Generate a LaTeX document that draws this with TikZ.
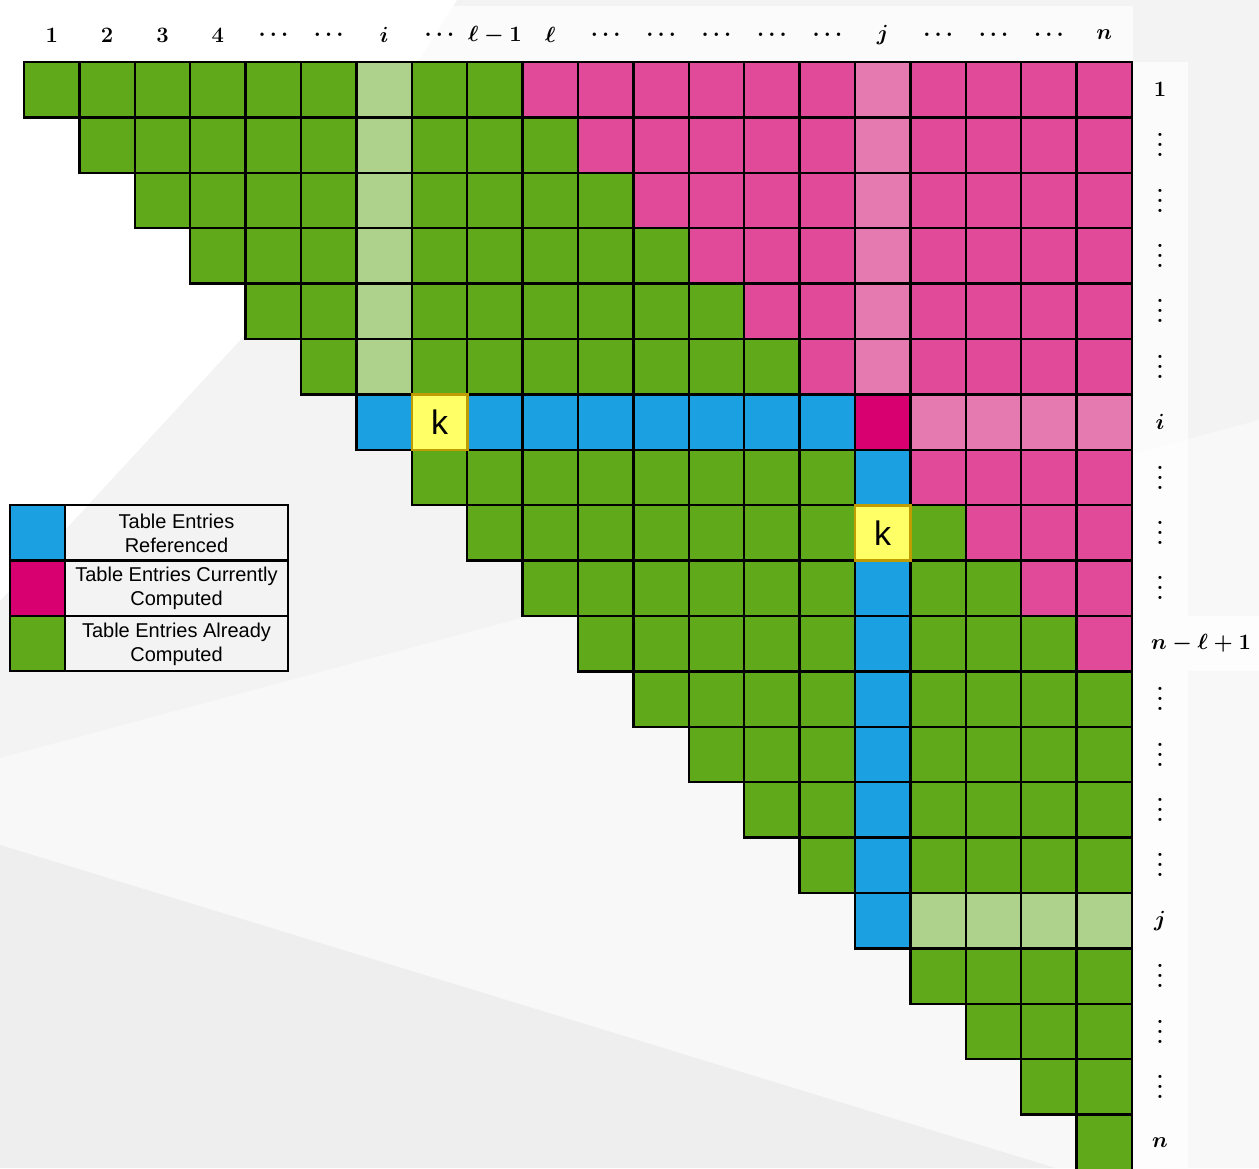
\RequirePackage{fix-cm}
\documentclass[tikz,border=0pt]{standalone}
\usepackage{bm}
\usepackage{fontspec}
\newfontfamily\legfont{Liberation Sans}
\definecolor{cgreen}{HTML}{60A91A}
\definecolor{clgreen}{HTML}{AED28C}
\definecolor{cpink}{HTML}{E04A98}
\definecolor{clpink}{HTML}{E57AB1}
\definecolor{cmag}{HTML}{D80070}
\definecolor{cblue}{HTML}{1BA1E2}
\definecolor{cyel}{HTML}{FFFF66}
\definecolor{cyelb}{HTML}{BF9C00}
\definecolor{bgmid}{HTML}{F3F3F3}
\definecolor{bglight}{HTML}{F8F8F8}
\definecolor{bgdark}{HTML}{EEEEEE}
\newcommand\bvdots{\vbox{\baselineskip=10pt\lineskiplimit=-20pt\hbox{\bfseries.}\hbox{\bfseries.}\hbox{\bfseries.}}}
\tikzset{
  cellbox/.style={draw=black, line width=2.4pt},
  kbox/.style={fill=cyel, draw=cyelb, line width=2.6pt},
  klabel/.style={font=\legfont\fontsize{34}{40}\selectfont, inner sep=0pt},
  lab/.style={font=\boldmath\fontsize{22}{26}\selectfont, inner sep=0pt},
  legtext/.style={font=\legfont\fontsize{20}{24}\selectfont, align=center, inner sep=0pt},
  strip/.style={fill=white, fill opacity=0.75}
}
\begin{document}
\begin{tikzpicture}[x=1pt,y=-1pt]
\useasboundingbox (0,0) rectangle (1259,1168);
% background
\fill[bgmid] (0,0) rectangle (1259,1168);
\fill[white] (0,0) -- (457,0) -- (243,337) -- (77,517) -- (0,601) -- cycle;
\fill[bglight] (0,758) -- (1259,420) -- (1259,1168) -- (1055,1168) -- (0,845) -- cycle;
\fill[bgdark] (0,845) -- (1055,1168) -- (0,1168) -- cycle;
% label strips
\fill[strip] (24,6) rectangle (1133,62);
\fill[strip] (1133,62) rectangle (1188,1168);
\fill[strip] (1188,616) rectangle (1259,671);
% grid cells
\foreach \r in {1,...,20}{
  \foreach \c in {\r,...,20}{
    \pgfmathtruncatemacro\dd{\c-\r}
    \pgfmathsetmacro\xa{24+55.4*(\c-1)}
    \pgfmathsetmacro\ya{62+55.4*(\r-1)}
    \def\col{cgreen}
    \ifnum\dd>8 \def\col{cpink}\fi
    \ifnum\c=7 \ifnum\r<7 \def\col{clgreen}\fi\fi
    \ifnum\c=16 \ifnum\r<7 \def\col{clpink}\fi\fi
    \ifnum\r=7
      \ifnum\c<16 \def\col{cblue}\fi
      \ifnum\c=16 \def\col{cmag}\fi
      \ifnum\c>16 \def\col{clpink}\fi
    \fi
    \ifnum\c=16 \ifnum\r>7 \def\col{cblue}\fi\fi
    \ifnum\r=16 \ifnum\c>16 \def\col{clgreen}\fi\fi
    \filldraw[cellbox, fill=\col] (\xa,\ya) rectangle ++(55.4,55.4);
  }
}
% k cells
\filldraw[kbox] (411.8,394.4) rectangle ++(55.4,55.4);
\node[klabel] (k1) at (439.5,422.1) {k};
\filldraw[kbox] (855,505.2) rectangle ++(55.4,55.4);
\node[klabel] (k2) at (882.7,532.9) {k};
% column labels
\foreach \c/\t in {1/1,2/2,3/3,4/4,5/\ldots,6/\ldots,7/i,8/\ldots,9/{\ell-1},10/\ell,
  11/\ldots,12/\ldots,13/\ldots,14/\ldots,15/\ldots,16/j,17/\ldots,18/\ldots,19/\ldots,20/n}{
  \node[lab] (h\c) at ({24+55.4*(\c-0.5)},35) {$\t$};
}
% row labels
\foreach \r/\t in {1/$1$,2/\bvdots,3/\bvdots,4/\bvdots,5/\bvdots,6/\bvdots,7/$i$,8/\bvdots,9/\bvdots,10/\bvdots,
  12/\bvdots,13/\bvdots,14/\bvdots,15/\bvdots,16/$j$,17/\bvdots,18/\bvdots,19/\bvdots,20/$n$}{
  \node[lab] (v\r) at (1160,{62+55.4*(\r-0.5)}) {\t};
}
\node[lab] (v11) at (1201,{62+55.4*10.5}) {$n-\ell+1$};
% legend
\filldraw[cellbox, fill=cblue] (10,505) rectangle (65,560.5);
\filldraw[cellbox, fill=cmag] (10,560.5) rectangle (65,616);
\filldraw[cellbox, fill=cgreen] (10,616) rectangle (65,671);
\draw[cellbox] (65,505) rectangle (288,560.5);
\draw[cellbox] (65,560.5) rectangle (288,616);
\draw[cellbox] (65,616) rectangle (288,671);
\node[legtext] (l1) at (176.5,533) {Table Entries\\Referenced};
\node[legtext] (l2) at (176.5,588.5) {Table Entries Currently\\Computed};
\node[legtext] (l3) at (176.5,644) {Table Entries Already\\Computed};
\end{tikzpicture}
\end{document}
